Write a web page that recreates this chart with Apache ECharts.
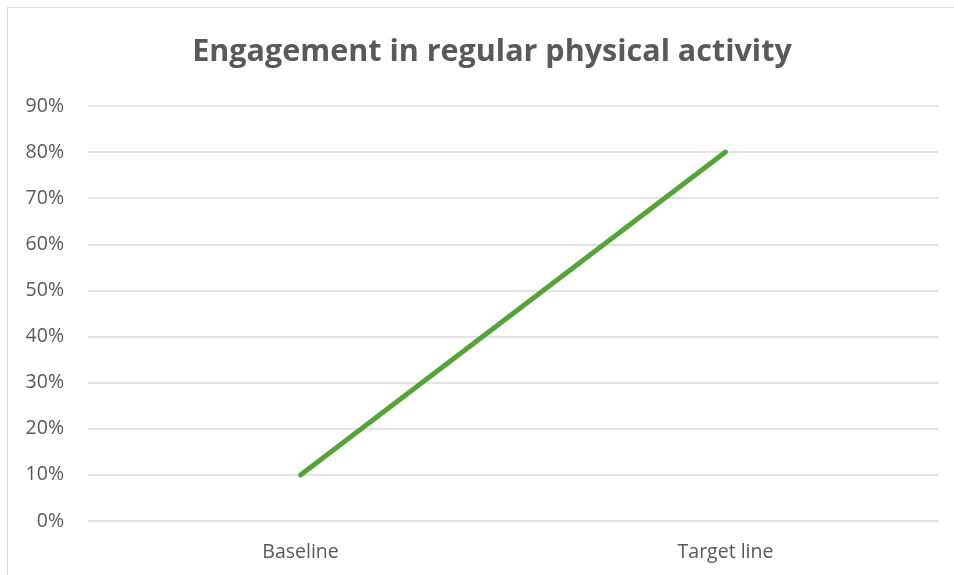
<!DOCTYPE html>
<html>
<head>
<meta charset="utf-8">
<script src="https://cdn.jsdelivr.net/npm/echarts@6/dist/echarts.min.js"></script>
<style>
  html, body { margin: 0; padding: 0; background: #fff; }
  #frame { position: absolute; left: 7px; top: 7px; width: 960px; height: 600px; border: 1px solid #d9d9d9; box-sizing: border-box; }
  #chart { position: absolute; left: 0; top: 0; width: 954px; height: 575px; }
</style>
</head>
<body>
<div id="frame"></div>
<div id="chart"></div>
<script>
// Share of people engaging in regular physical activity
const categories = ['Baseline', 'Target line'];
const engagement = [0.10, 0.80];
const yTicks = { min: 0, max: 0.9, step: 0.1 };

const textColor = '#595959';
const fontFamily = '"Open Sans", sans-serif';

const chart = echarts.init(document.getElementById('chart'), null, { renderer: 'canvas' });
chart.setOption({
  backgroundColor: 'transparent',
  animation: false,
  title: {
    text: 'Engagement in regular physical activity',
    left: 487,
    top: 32,
    textAlign: 'center',
    textStyle: { color: textColor, fontSize: 30.5, fontWeight: 'bold', fontFamily: fontFamily }
  },
  grid: { left: 88, right: 16, top: 106, bottom: 54, containLabel: false },
  xAxis: {
    type: 'category',
    data: categories,
    boundaryGap: true,
    axisLine: { show: false },
    axisTick: { show: false },
    axisLabel: { color: textColor, fontSize: 19.5, fontFamily: fontFamily, margin: 21 }
  },
  yAxis: {
    type: 'value',
    min: yTicks.min,
    max: yTicks.max,
    interval: yTicks.step,
    axisLine: { show: false },
    axisTick: { show: false },
    splitLine: { lineStyle: { color: '#d9d9d9', width: 1.5 } },
    axisLabel: {
      color: textColor, fontSize: 19.5, fontFamily: fontFamily, margin: 24,
      formatter: v => Math.round(v * 100) + '%'
    }
  },
  series: [{
    type: 'line',
    data: engagement,
    symbol: 'none',
    lineStyle: { color: '#57A33B', width: 5, cap: 'round' }
  }]
});
</script>
</body>
</html>
